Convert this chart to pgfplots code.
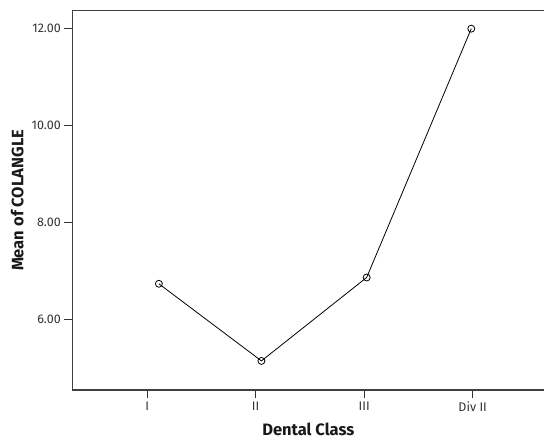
\documentclass[border=0pt]{standalone}
\usepackage{fontspec}
\setmainfont{Fira Sans}
\usepackage{pgfplots}
\pgfplotsset{compat=1.18}
\begin{document}
\begin{tikzpicture}
\useasboundingbox (-72.3pt,-48pt) rectangle (472.7pt,390pt);
\begin{axis}[
  at={(0,0)}, anchor=south west,
  scale only axis, width=472pt, height=379.3pt,
  xmin=-0.69, xmax=3.66, ymin=4.55, ymax=12.37,
  axis line style={line width=1.1pt, black!75},
  axis lines*=left,
  xtick={0,1,2,3}, xticklabels={I,II,III,Div II},
  ytick={6,8,10,12},
  yticklabel style={/pgf/number format/fixed, /pgf/number format/fixed zerofill, /pgf/number format/precision=2},
  /pgf/number format/assume math mode=true,
  tick align=outside, major tick length=8pt,
  tick style={line width=0.9pt, black!80},
  ticklabel style={font=\fontsize{12.5}{13}\selectfont, text=black!80},
  xlabel={Dental Class}, ylabel={Mean of COLANGLE},
  label style={font=\fontsize{16.5}{17}\selectfont\bfseries, text=black!90},
  ylabel style={at={(axis description cs:0,0.5)}, anchor=south, yshift=45pt},
  xlabel style={at={(axis description cs:0.5,0)}, anchor=north, yshift=-29pt},
  clip=false,
]
\draw[line width=1.1pt, black!75] (rel axis cs:0,1) -- (rel axis cs:1,1);
\addplot[black, line width=0.8pt, mark=o, mark size=3.5pt, mark options={line width=0.8pt}]
  coordinates {(0.108,6.74) (1.053,5.15) (2.023,6.87) (2.987,12.0)};
\end{axis}
\end{tikzpicture}
\end{document}
